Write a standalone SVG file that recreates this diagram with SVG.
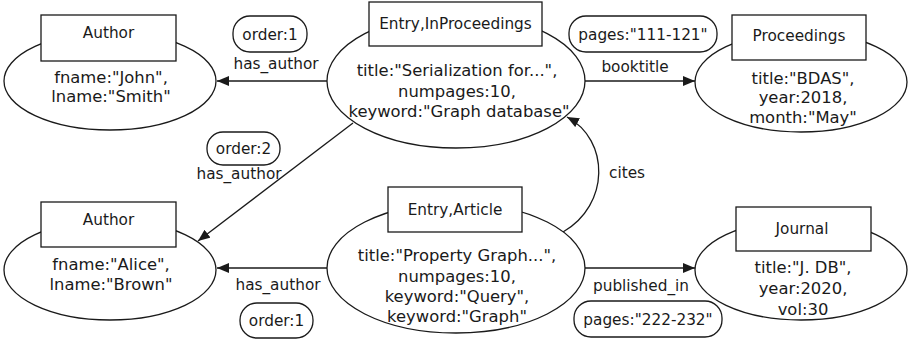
<svg xmlns="http://www.w3.org/2000/svg" width="909" height="345" viewBox="0 0 909 345">
  <style>
    text { font-family: "DejaVu Sans", "Liberation Sans", sans-serif; font-size: 15.3px; fill: #1a1a1a; text-anchor: middle; }
    .prop { font-size: 16.4px; }
    .shape { fill: #fff; stroke: #1a1a1a; stroke-width: 1.3; }
    .edge { fill: none; stroke: #1a1a1a; stroke-width: 1.3; }
    .pill { fill: #fff; stroke: #1a1a1a; stroke-width: 1.3; }
  </style>
  <defs>
    <marker id="arrow" viewBox="0 0 12 10" refX="12" refY="5" markerWidth="12" markerHeight="10" markerUnits="userSpaceOnUse" orient="auto">
      <path d="M0,0 L12,5 L0,10 Z" fill="#1a1a1a"/>
    </marker>
  </defs>
  <rect width="909" height="345" fill="#fff"/>

  <!-- connectors -->
  <g id="edges">
    <line class="edge" x1="327" y1="81" x2="217" y2="81" marker-end="url(#arrow)"/>
    <line class="edge" x1="585" y1="81" x2="695" y2="81" marker-end="url(#arrow)"/>
    <line class="edge" x1="353" y1="123" x2="198" y2="241" marker-end="url(#arrow)"/>
    <line class="edge" x1="327" y1="268" x2="217" y2="268" marker-end="url(#arrow)"/>
    <line class="edge" x1="585" y1="268" x2="695" y2="268" marker-end="url(#arrow)"/>
    <path class="edge" d="M563,232 C610,205 610,140 567,117" marker-end="url(#arrow)"/>

    <rect class="pill" x="233" y="16" width="74" height="36" rx="17"/>
    <text x="270" y="39.5">order:1</text>
    <text x="276" y="68.5">has_author</text>

    <rect class="pill" x="569" y="16" width="148" height="36" rx="17"/>
    <text x="643" y="39.5">pages:"111-121"</text>
    <text x="635" y="71.5">booktitle</text>

    <rect class="pill" x="207" y="132" width="73" height="33" rx="16"/>
    <text x="243.5" y="153.5">order:2</text>
    <text x="239" y="178.5">has_author</text>

    <text x="278" y="289.5">has_author</text>
    <rect class="pill" x="240" y="303" width="73" height="35" rx="17"/>
    <text x="276.5" y="325.5">order:1</text>

    <text x="627" y="177.5">cites</text>

    <text x="641" y="290.5">published_in</text>
    <rect class="pill" x="574" y="301" width="148" height="36" rx="17"/>
    <text x="648" y="324.5">pages:"222-232"</text>
  </g>

  <!-- nodes -->
  <g id="author-john">
    <ellipse class="shape" cx="110" cy="81" rx="106" ry="49"/>
    <rect class="shape" x="41" y="15" width="135" height="46"/>
    <text x="108.5" y="38">Author</text>
    <text class="prop" x="111" y="83">fname:"John",</text>
    <text class="prop" x="111" y="102">lname:"Smith"</text>
  </g>

  <g id="entry-inproceedings">
    <ellipse class="shape" cx="456" cy="81" rx="129" ry="67"/>
    <rect class="shape" x="369" y="2" width="173" height="44"/>
    <text x="455.5" y="29">Entry,InProceedings</text>
    <text class="prop" x="457" y="76">title:"Serialization for...",</text>
    <text class="prop" x="457" y="96.5">numpages:10,</text>
    <text class="prop" x="459" y="117">keyword:"Graph database"</text>
  </g>

  <g id="proceedings">
    <ellipse class="shape" cx="801" cy="82" rx="106" ry="50"/>
    <rect class="shape" x="732" y="15" width="134" height="45"/>
    <text x="799" y="41">Proceedings</text>
    <text class="prop" x="803" y="84">title:"BDAS",</text>
    <text class="prop" x="803" y="103">year:2018,</text>
    <text class="prop" x="803" y="123">month:"May"</text>
  </g>

  <g id="author-alice">
    <ellipse class="shape" cx="110" cy="270" rx="106" ry="50"/>
    <rect class="shape" x="41" y="202" width="135" height="45"/>
    <text x="108.5" y="225">Author</text>
    <text class="prop" x="111" y="270">fname:"Alice",</text>
    <text class="prop" x="111" y="290">lname:"Brown"</text>
  </g>

  <g id="entry-article">
    <ellipse class="shape" cx="456" cy="268" rx="129" ry="65"/>
    <rect class="shape" x="388" y="187" width="134" height="45"/>
    <text x="455" y="214.5">Entry,Article</text>
    <text class="prop" x="457" y="261">title:"Property Graph...",</text>
    <text class="prop" x="457" y="282">numpages:10,</text>
    <text class="prop" x="457" y="302">keyword:"Query",</text>
    <text class="prop" x="457" y="322">keyword:"Graph"</text>
  </g>

  <g id="journal">
    <ellipse class="shape" cx="801" cy="270" rx="106" ry="50"/>
    <rect class="shape" x="736" y="207" width="135" height="44"/>
    <text x="802" y="234">Journal</text>
    <text class="prop" x="803" y="273">title:"J. DB",</text>
    <text class="prop" x="803" y="294">year:2020,</text>
    <text class="prop" x="803" y="315">vol:30</text>
  </g>
</svg>
